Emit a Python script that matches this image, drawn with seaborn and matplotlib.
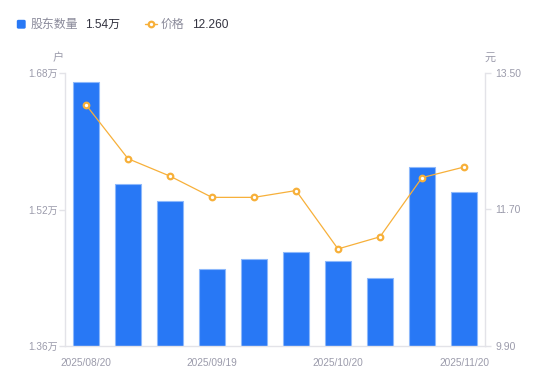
import matplotlib
matplotlib.use("Agg")
import matplotlib.pyplot as plt
import pandas as pd
import seaborn as sns
from matplotlib.lines import Line2D
from matplotlib.patches import FancyBboxPatch

dates = ["2025/08/20", "2025/08/31", "2025/09/10", "2025/09/19", "2025/09/30",
         "2025/10/10", "2025/10/20", "2025/10/31", "2025/11/10", "2025/11/20"]
holders = [1.669, 1.550, 1.530, 1.450, 1.462, 1.470, 1.460, 1.440, 1.570, 1.540]  # 万户
prices = [13.08, 12.37, 12.14, 11.86, 11.86, 11.95, 11.18, 11.34, 12.12, 12.26]
left_ticks = [1.36, 1.52, 1.68]
right_ticks = [9.90, 11.70, 13.50]
shown_dates = ["2025/08/20", "2025/09/19", "2025/10/20", "2025/11/20"]

bar_color = "#2878f5"
line_color = "#f7b03a"
tick_color = "#9b9bab"
axis_color = "#e3e3e8"

sns.set_theme(style="white")
plt.rcParams["font.family"] = ["Liberation Sans", "Noto Sans CJK SC"]

df = pd.DataFrame({"date": dates, "holders": holders, "price": prices})

fig = plt.figure(figsize=(5.5, 3.81), dpi=100)
ax = fig.add_axes([65 / 550, 35 / 381, 420 / 550, 273 / 381])

sns.barplot(data=df, x="date", y="holders", color=bar_color, saturation=1,
            width=0.6, edgecolor="#8db8fb", linewidth=0.8, ax=ax)
ax.set_ylim(left_ticks[0], left_ticks[-1])
ax.set_yticks(left_ticks)
ax.set_yticklabels([f"{v:.2f}万" for v in left_ticks])

ax2 = ax.twinx()
sns.pointplot(data=df, x="date", y="price", color=line_color, ax=ax2,
              markers="o", markersize=4, linewidth=0.9,
              markerfacecolor="white", markeredgecolor=line_color,
              markeredgewidth=1.6)
ax2.set_ylim(right_ticks[0], right_ticks[-1])
ax2.set_yticks(right_ticks)
ax2.set_yticklabels([f"{v:.2f}" for v in right_ticks])
ax2.set_xlim(-0.5, len(dates) - 0.5)
ax.set_xlim(-0.5, len(dates) - 0.5)

ax.set_xticks([dates.index(d) for d in shown_dates])
ax.set_xticklabels(shown_dates)
ax.set_xlabel("")
ax.set_ylabel("")
ax2.set_xlabel("")
ax2.set_ylabel("")

for a in (ax, ax2):
    for s in a.spines.values():
        s.set_visible(False)
    a.grid(False)
ax.spines["left"].set_visible(True)
ax.spines["bottom"].set_visible(True)
ax2.spines["right"].set_visible(True)
for s in (ax.spines["left"], ax.spines["bottom"], ax2.spines["right"]):
    s.set_color(axis_color)
    s.set_linewidth(1)

ax.tick_params(axis="y", left=True, length=4, width=1, color=axis_color,
               labelsize=7.2, labelcolor=tick_color, pad=1)
ax.tick_params(axis="x", bottom=False, labelsize=7.3, labelcolor=tick_color, pad=3)
ax2.tick_params(axis="y", right=True, length=4, width=1, color=axis_color,
                labelsize=7.5, labelcolor=tick_color, pad=3.5)
ax.set_zorder(1)
ax2.set_zorder(2)
ax.patch.set_visible(False)

# unit labels
fig.text(58 / 550, 1 - 58 / 381, "户", ha="center", va="center", fontsize=8,
         color=tick_color)
fig.text(490 / 550, 1 - 58 / 381, "元", ha="center", va="center", fontsize=8,
         color=tick_color)

# legend row
ly = 1 - 25 / 381
fig.patches.append(FancyBboxPatch((17.5 / 550, 1 - 28 / 381), 7.5 / 550, 7.5 / 381,
                                  boxstyle="round,pad=0,rounding_size=0.002",
                                  transform=fig.transFigure, color=bar_color,
                                  figure=fig))
fig.text(31 / 550, ly, "股东数量", ha="left", va="center", fontsize=8.6,
         color="#8a8a9a")
fig.text(85 / 550, ly, f"{holders[-1]:.2f}万", ha="left", va="center",
         fontsize=8.6, color="#333340")
fig.lines.append(Line2D([145 / 550, 157 / 550], [1 - 24 / 381] * 2,
                        transform=fig.transFigure,
                        color=line_color, linewidth=1, figure=fig))
fig.lines.append(Line2D([151 / 550], [1 - 24 / 381], transform=fig.transFigure,
                        color=line_color, marker="o", markersize=4,
                        markerfacecolor="white", markeredgewidth=1.6,
                        linestyle="none", figure=fig))
fig.text(161 / 550, ly, "价格", ha="left", va="center", fontsize=8.6,
         color="#8a8a9a")
fig.text(192 / 550, ly, f"{prices[-1]:.3f}", ha="left", va="center",
         fontsize=8.6, color="#333340")

fig.savefig("out.png", dpi=100)
